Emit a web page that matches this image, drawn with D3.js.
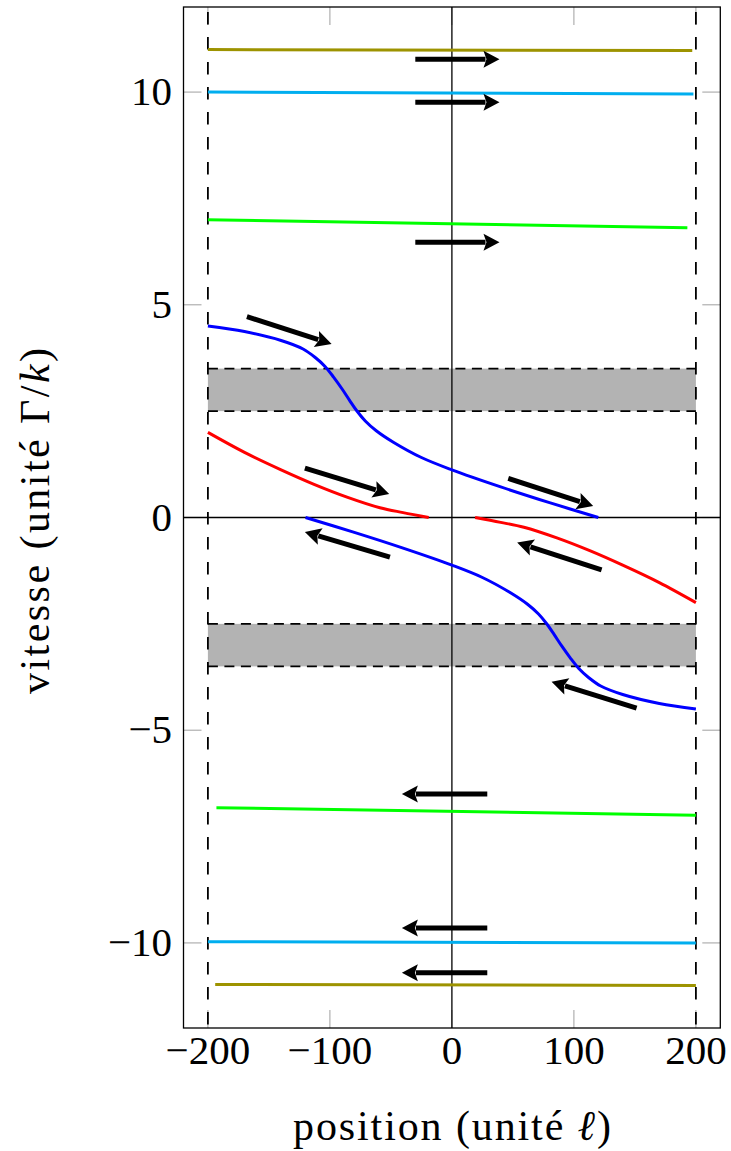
<!DOCTYPE html>
<html>
<head>
<meta charset="utf-8">
<script src="https://cdn.jsdelivr.net/npm/d3@7"></script>
<style>
  body { margin: 0; background: #fff; }
  text { font-family: "Liberation Serif", "DejaVu Serif", serif; fill: #000; }
</style>
</head>
<body>
<script>
const width = 731;
const height = 1151;

// axis ticks
const xTicks = [-200, -100, 0, 100, 200];
const yTicks = [-10, -5, 0, 5, 10];

// horizontal trajectories (fast particles)
const oliveTop = [[-200, 11.0], [197, 10.975]];
const cyanTop = [[-200, 10.0], [198, 9.955]];
const greenTop = [[-200, 7.0], [193, 6.81]];
const greenBottom = [[-193, -6.82], [200, -7.0]];
const cyanBottom = [[-200, -9.97], [200, -10.0]];
const oliveBottom = [[-194, -10.975], [200, -11.0]];

// blue curves crossing the gray bands
const blueTop = [[-200, 4.50], [-170, 4.37], [-140, 4.16], [-122, 3.96], [-112, 3.76], [-104, 3.55],
  [-97, 3.30], [-90, 3.02], [-84, 2.76], [-78, 2.51], [-71, 2.27], [-62, 2.04], [-48, 1.77],
  [-25, 1.41], [0, 1.12], [40, 0.72], [80, 0.35], [120, 0]];
const blueBottom = [[-120, 0], [-80, -0.35], [-40, -0.72], [0, -1.12], [25, -1.41], [48, -1.77],
  [62, -2.04], [71, -2.27], [78, -2.51], [84, -2.76], [90, -3.02], [97, -3.30], [104, -3.55],
  [112, -3.76], [122, -3.96], [140, -4.16], [170, -4.37], [200, -4.50]];

// red curves
const redTop = [[-200, 2.0], [-170, 1.53], [-140, 1.12], [-113, 0.78], [-86, 0.48], [-59, 0.23],
  [-40, 0.115], [-19, 0]];
const redBottom = [[19, 0], [40, -0.115], [59, -0.23], [86, -0.48], [113, -0.78], [140, -1.12],
  [170, -1.53], [200, -2.0]];

const series = [
  {pts: oliveTop, color: "#9d9300"},
  {pts: cyanTop, color: "#00aeef"},
  {pts: greenTop, color: "#00ff00"},
  {pts: greenBottom, color: "#00ff00"},
  {pts: cyanBottom, color: "#00aeef"},
  {pts: oliveBottom, color: "#9d9300"},
  {pts: redTop, color: "#ff0000"},
  {pts: redBottom, color: "#ff0000"},
  {pts: blueTop, color: "#0000ff"},
  {pts: blueBottom, color: "#0000ff"}
];

// gray bands (y ranges) and walls
const bands = [[2.5, 3.5], [-3.5, -2.5]];
const bandX = [-200, 200];
const walls = [-200, 200];

// arrows: [tailX, tailY, tipX, tipY]
const arrows = [
  [-30, 10.77, 39, 10.77],
  [-30, 9.76, 39, 9.76],
  [-30, 6.47, 39, 6.47],
  [29, -6.5, -41, -6.5],
  [29, -9.65, -41, -9.65],
  [29, -10.7, -41, -10.7],
  [-168, 4.72, -98.6, 4.08],
  [-120.5, 1.16, -51.4, 0.55],
  [46.2, 0.92, 115.8, 0.27],
  [122.7, -1.23, 53.5, -0.59],
  [151.4, -4.48, 81.7, -3.86],
  [-50.8, -0.93, -120.5, -0.34]
];

const x = d3.scaleLinear().domain([-220, 220]).range([183.5, 720.3]);
const y = d3.scaleLinear().domain([-12, 12]).range([1028, 7]);

const svg = d3.select("body").append("svg")
  .attr("width", width)
  .attr("height", height);

// bands
svg.selectAll(".band")
  .data(bands)
  .enter()
  .append("rect")
  .attr("x", x(bandX[0]))
  .attr("width", x(bandX[1]) - x(bandX[0]))
  .attr("y", d => y(d[1]))
  .attr("height", d => y(d[0]) - y(d[1]))
  .attr("fill", "#b3b3b3");

bands.forEach(b => {
  b.forEach(v => {
    svg.append("line")
      .attr("x1", x(bandX[0])).attr("x2", x(bandX[1]))
      .attr("y1", y(v)).attr("y2", y(v))
      .attr("stroke", "#000")
      .attr("stroke-width", 1.6)
      .attr("stroke-dasharray", "10,6.5");
  });
});

// ticks (gray, inward, all four sides)
const tickLen = 18;
const tickG = svg.append("g").attr("stroke", "#a8a8a8").attr("stroke-width", 1.1);
xTicks.forEach(t => {
  tickG.append("line").attr("x1", x(t)).attr("x2", x(t)).attr("y1", y(-12)).attr("y2", y(-12) - tickLen);
  tickG.append("line").attr("x1", x(t)).attr("x2", x(t)).attr("y1", y(12)).attr("y2", y(12) + tickLen);
});
yTicks.forEach(t => {
  tickG.append("line").attr("x1", x(-220)).attr("x2", x(-220) + tickLen).attr("y1", y(t)).attr("y2", y(t));
  tickG.append("line").attr("x1", x(220)).attr("x2", x(220) - tickLen).attr("y1", y(t)).attr("y2", y(t));
});

// walls
svg.selectAll(".wall")
  .data(walls)
  .enter()
  .append("line")
  .attr("x1", d => x(d)).attr("x2", d => x(d))
  .attr("y1", y(12)).attr("y2", y(-12))
  .attr("stroke", "#000")
  .attr("stroke-width", 1.8)
  .attr("stroke-dasharray", "12.5,12.5")
  .attr("stroke-dashoffset", -5);

// zero axes
svg.append("line")
  .attr("x1", x(0)).attr("x2", x(0)).attr("y1", y(12)).attr("y2", y(-12))
  .attr("stroke", "#000").attr("stroke-width", 1.3);
svg.append("line")
  .attr("x1", x(-220)).attr("x2", x(220)).attr("y1", y(0)).attr("y2", y(0))
  .attr("stroke", "#000").attr("stroke-width", 1.3);

// curves
const line = d3.line()
  .x(d => x(d[0]))
  .y(d => y(d[1]))
  .curve(d3.curveCatmullRom.alpha(0.5));

svg.selectAll(".curve")
  .data(series)
  .enter()
  .append("path")
  .attr("d", d => line(d.pts))
  .attr("fill", "none")
  .attr("stroke", d => d.color)
  .attr("stroke-width", 3);

// arrows
const headLen = 16, headHalf = 8.5;
arrows.forEach(a => {
  const x1 = x(a[0]), y1 = y(a[1]), x2 = x(a[2]), y2 = y(a[3]);
  const L = Math.hypot(x2 - x1, y2 - y1);
  const ux = (x2 - x1) / L, uy = (y2 - y1) / L;
  const bx = x2 - ux * headLen, by = y2 - uy * headLen;
  svg.append("line")
    .attr("x1", x1).attr("y1", y1)
    .attr("x2", bx + ux * 2).attr("y2", by + uy * 2)
    .attr("stroke", "#000").attr("stroke-width", 5);
  svg.append("path")
    .attr("d", `M${x2},${y2}L${bx - uy * headHalf},${by + ux * headHalf}L${bx + ux * 3},${by + uy * 3}L${bx + uy * headHalf},${by - ux * headHalf}Z`)
    .attr("fill", "#000");
});

// frame
svg.append("rect")
  .attr("x", x(-220)).attr("y", y(12))
  .attr("width", x(220) - x(-220)).attr("height", y(-12) - y(12))
  .attr("fill", "none").attr("stroke", "#000").attr("stroke-width", 1.3);

// tick labels
const fmt = v => (v < 0 ? "\u2212" + Math.abs(v) : String(v));
svg.selectAll(".xlab")
  .data(xTicks)
  .enter()
  .append("text")
  .attr("x", d => x(d))
  .attr("y", 1064)
  .attr("text-anchor", "middle")
  .style("font-size", "41px")
  .text(fmt);

svg.selectAll(".ylab")
  .data(yTicks)
  .enter()
  .append("text")
  .attr("x", 172)
  .attr("y", d => y(d) + 13)
  .attr("text-anchor", "end")
  .style("font-size", "41px")
  .text(fmt);

// axis titles
const xt = svg.append("text")
  .attr("x", 452)
  .attr("y", 1140)
  .attr("text-anchor", "middle")
  .attr("textLength", 318)
  .attr("lengthAdjust", "spacing")
  .style("font-size", "42px");
xt.append("tspan").text("position (unité ");
xt.append("tspan").style("font-style", "italic").text("ℓ");
xt.append("tspan").text(")");

const yt = svg.append("text")
  .attr("transform", "translate(49,521) rotate(-90)")
  .attr("text-anchor", "middle")
  .attr("textLength", 346)
  .attr("lengthAdjust", "spacing")
  .style("font-size", "42px");
yt.append("tspan").text("vitesse (unité Γ/");
yt.append("tspan").style("font-style", "italic").text("k");
yt.append("tspan").text(")");
</script>
</body>
</html>
